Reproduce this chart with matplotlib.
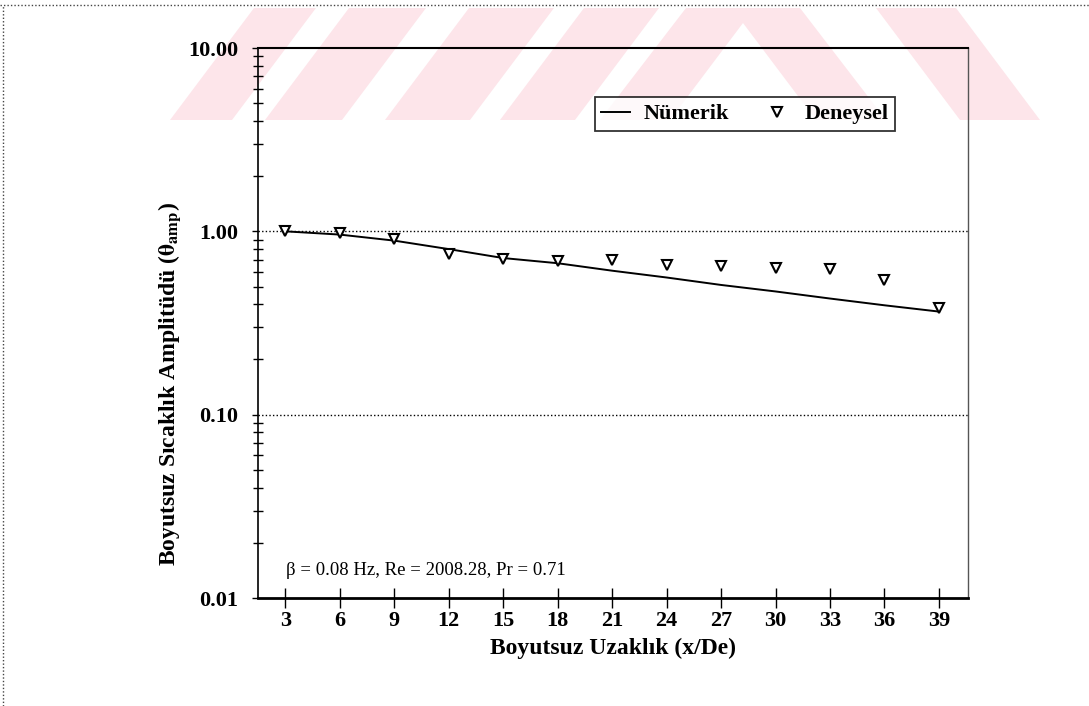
import numpy as np
import matplotlib
matplotlib.use('Agg')
import matplotlib.pyplot as plt
from matplotlib.patches import Polygon
from matplotlib.lines import Line2D
from matplotlib.ticker import LogLocator, FormatStrFormatter, NullFormatter

plt.rcParams['font.family'] = ['Liberation Serif', 'DejaVu Serif']
plt.rcParams['mathtext.fontset'] = 'stix'

# data
x_vals = [3, 6, 9, 12, 15, 18, 21, 24, 27, 30, 33, 36, 39]
numerik = [1.00, 0.96, 0.89, 0.80, 0.715, 0.67, 0.61, 0.56, 0.51, 0.47, 0.43, 0.395, 0.365]
deneysel = [1.01, 0.984, 0.912, 0.755, 0.703, 0.690, 0.694, 0.658, 0.644, 0.630, 0.625, 0.540, 0.380]

x_ticks = [3, 6, 9, 12, 15, 18, 21, 24, 27, 30, 33, 36, 39]
y_ticks = [0.01, 0.1, 1.0, 10.0]
grid_levels = [0.1, 1.0]

W, H = 1089, 706
fig = plt.figure(figsize=(W / 100, H / 100), dpi=100)


def px(x, y):
    # pixel coords (top-left origin) -> figure fraction
    return (x / W, 1 - y / H)


# faint watermark stripes at the top
pink = '#fde5ea'
k = 0.75
ytop, ybot = 8, 120
left_stripes = [(170, 232), (265, 342), (385, 470), (500, 575)]
for a, b in left_stripes:
    pts = [px(a, ybot), px(b, ybot), px(b + k * (ybot - ytop), ytop), px(a + k * (ybot - ytop), ytop)]
    fig.add_artist(Polygon(pts, closed=True, transform=fig.transFigure,
                           facecolor=pink, edgecolor='none', zorder=-5))
lam = [(600, ybot), (670, ybot), (743, 23), (816, ybot), (886, ybot), (800, ytop), (686, ytop)]
fig.add_artist(Polygon([px(*p) for p in lam], closed=True, transform=fig.transFigure,
                       facecolor=pink, edgecolor='none', zorder=-5))
right_stripes = [(960, 1040)]
for a, b in right_stripes:
    pts = [px(a, ybot), px(b, ybot), px(b - k * (ybot - ytop), ytop), px(a - k * (ybot - ytop), ytop)]
    fig.add_artist(Polygon(pts, closed=True, transform=fig.transFigure,
                           facecolor=pink, edgecolor='none', zorder=-5))

# dotted scan border (top and left)
fig.add_artist(Line2D([0, 1], [1 - 5 / H] * 2, transform=fig.transFigure,
                      color='#444444', lw=1, ls=(0, (1, 1.5))))
fig.add_artist(Line2D([3 / W] * 2, [0, 1 - 5 / H], transform=fig.transFigure,
                      color='#444444', lw=1, ls=(0, (1, 1.5))))

ax = fig.add_axes([258 / W, 1 - 598 / H, 710 / W, 550 / H])
ax.set_facecolor('none')

ax.set_yscale('log')
ax.set_ylim(0.01, 10)
ax.set_xlim(1.5, 40.6)

for g in grid_levels:
    ax.axhline(g, color='k', lw=1, ls=(0, (1, 1.6)), zorder=1)

ax.plot(x_vals, numerik, color='k', lw=1.4, label='Nümerik', zorder=3)
ax.plot(x_vals, deneysel, ls='none', marker='v', ms=7, mfc='white', mec='k',
        mew=1.5, label='Deneysel', zorder=4)

ax.set_xticks(x_ticks)
ax.set_yticks(y_ticks)
ax.yaxis.set_major_formatter(FormatStrFormatter('%.2f'))
ax.yaxis.set_minor_locator(LogLocator(base=10, subs=np.arange(2, 10)))
ax.yaxis.set_minor_formatter(NullFormatter())

ax.tick_params(axis='y', which='major', direction='out', length=4, width=1, pad=10,
               labelsize=16, right=False)
ax.tick_params(axis='y', which='minor', direction='inout', length=7, width=1, right=False)
ax.tick_params(axis='x', which='major', direction='inout', length=14, width=1, pad=2,
               labelsize=16, top=False)
for lab in ax.get_xticklabels() + ax.get_yticklabels():
    lab.set_fontweight('bold')

ax.spines['top'].set_linewidth(1.5)
ax.spines['bottom'].set_linewidth(2)
ax.spines['left'].set_linewidth(1.2)
ax.spines['right'].set_linewidth(1)
ax.spines['right'].set_color('#555555')

ax.set_xlabel('Boyutsuz Uzaklık (x/De)', fontsize=17, fontweight='bold')
ax.xaxis.set_label_coords(0.5, -0.091)
ax.xaxis.label.set_va('center')
ax.set_ylabel(r'Boyutsuz Sıcaklık Amplitüdü ($\mathbf{\theta_{amp}}$)', fontsize=17,
              fontweight='bold')
ax.yaxis.set_label_coords(-0.124, 0.389)
ax.yaxis.label.set_va('center')

ax.text(0.04, 0.05, 'β = 0.08 Hz, Re = 2008.28, Pr = 0.71', transform=ax.transAxes,
        fontsize=13.5, va='center', ha='left')

leg = ax.legend(loc='center', bbox_to_anchor=(0.686, 0.88), ncol=2, frameon=True,
                fancybox=False, edgecolor='k', handlelength=1.3, columnspacing=1.5,
                handletextpad=0.6, prop={'weight': 'bold', 'size': 16}, borderpad=0.3)
leg.get_frame().set_linewidth(1.3)

fig.savefig('out.png', dpi=100)
